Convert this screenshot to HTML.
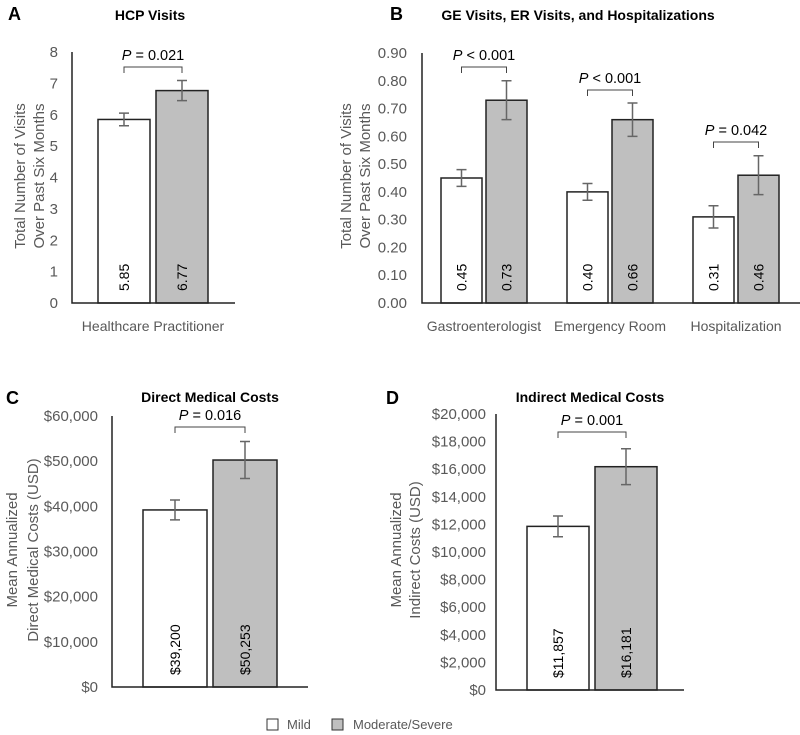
<!DOCTYPE html>
<html><head><meta charset="utf-8"><style>
body{margin:0;background:#fff;}
svg{display:block;font-family:"Liberation Sans",Arial,sans-serif;}
.tick{fill:#595959;font-size:15px;}
.ttl{font-weight:bold;font-size:14px;fill:#000;}
.lbl{font-weight:bold;font-size:18px;fill:#000;}
.ytitle{fill:#595959;font-size:15px;}
.cat{fill:#595959;font-size:14px;}
.val{fill:#000;font-size:14px;}
.pv{fill:#000;font-size:14.5px;}
</style></head><body>
<svg id="chart" width="800" height="735">
<text class="lbl" x="8" y="20">A</text>
<text class="lbl" x="390" y="20">B</text>
<text class="lbl" x="6" y="404">C</text>
<text class="lbl" x="386" y="404">D</text>
<text class="ttl" x="150" y="20" text-anchor="middle">HCP Visits</text>
<text class="ttl" x="578" y="20" text-anchor="middle">GE Visits, ER Visits, and Hospitalizations</text>
<text class="ttl" x="210" y="402" text-anchor="middle">Direct Medical Costs</text>
<text class="ttl" x="590" y="402" text-anchor="middle">Indirect Medical Costs</text>
<g>
<rect x="267" y="719" width="11" height="11" fill="#fff" stroke="#333"/>
<text x="287" y="729" class="tick" font-size="13" style="font-size:13px">Mild</text>
<rect x="332" y="719" width="11" height="11" fill="#bfbfbf" stroke="#333"/>
<text x="353" y="729" class="tick" style="font-size:13px">Moderate/Severe</text>
</g>
</svg>
<script>
// Panel A data
const aCats=["Healthcare Practitioner"];
const aMild=[5.85], aMod=[6.77];
const aMildErr=[0.2], aModErr=[0.32];
const aTicks=[0,1,2,3,4,5,6,7,8];
const aTickLabels=["0","1","2","3","4","5","6","7","8"];
const aValLabelsMild=["5.85"], aValLabelsMod=["6.77"];
const aP=["P = 0.021"];
// Panel B data
const bCats=["Gastroenterologist","Emergency Room","Hospitalization"];
const bMild=[0.45,0.40,0.31], bMod=[0.73,0.66,0.46];
const bMildErr=[0.03,0.03,0.04], bModErr=[0.07,0.06,0.07];
const bTicks=[0,0.1,0.2,0.3,0.4,0.5,0.6,0.7,0.8,0.9];
const bTickLabels=["0.00","0.10","0.20","0.30","0.40","0.50","0.60","0.70","0.80","0.90"];
const bValLabelsMild=["0.45","0.40","0.31"], bValLabelsMod=["0.73","0.66","0.46"];
const bP=["P < 0.001","P < 0.001","P = 0.042"];
// Panel C data
const cCats=[""];
const cMild=[39200], cMod=[50253];
const cMildErr=[2200], cModErr=[4100];
const cTicks=[0,10000,20000,30000,40000,50000,60000];
const cTickLabels=["$0","$10,000","$20,000","$30,000","$40,000","$50,000","$60,000"];
const cValLabelsMild=["$39,200"], cValLabelsMod=["$50,253"];
const cP=["P = 0.016"];
// Panel D data
const dCats=[""];
const dMild=[11857], dMod=[16181];
const dMildErr=[750], dModErr=[1300];
const dTicks=[0,2000,4000,6000,8000,10000,12000,14000,16000,18000,20000];
const dTickLabels=["$0","$2,000","$4,000","$6,000","$8,000","$10,000","$12,000","$14,000","$16,000","$18,000","$20,000"];
const dValLabelsMild=["$11,857"], dValLabelsMod=["$16,181"];
const dP=["P = 0.001"];

const NS="http://www.w3.org/2000/svg";
const svg=document.getElementById("chart");
function el(tag,attrs,parent,txt){const e=document.createElementNS(NS,tag);for(const k in attrs)e.setAttribute(k,attrs[k]);if(txt!==undefined)e.textContent=txt;(parent||svg).appendChild(e);return e;}

function panel(o){
  const g=el("g",{});
  
  
  const max=o.ticks[o.ticks.length-1];
  const y=v=>o.y0-(v/max)*(o.y0-o.y1);
  const n=o.cats.length, gw=(o.xEnd-o.x0)/n;
  o.ticks.forEach((t,i)=>{
    const tx=el("text",{x:o.x0-o.tickGap,y:y(t)+5,"text-anchor":"end",class:"tick"},g,o.tickLabels[i]);
    
    
  });
  const yt=el("text",{class:"ytitle","text-anchor":"middle",transform:`translate(${o.ytx},${o.yty}) rotate(-90)`},g);
  
  
  o.ytitle.forEach((l,i)=>{el("tspan",{x:0,dy:i?o.lh:0},yt,l);});
  o.cats.forEach((c,i)=>{
    const cx=o.x0+gw*i+gw/2+o.shift;
    const bw=o.bw, gap=o.gap;
    [[o.mild[i],o.mildErr[i],"#fff",cx-gap/2-bw,o.vm[i],"bar-mild"],[o.mod[i],o.modErr[i],"#bfbfbf",cx+gap/2,o.vd[i],"bar-moderate-severe"]].forEach(([v,e,f,bx,lab,nm])=>{
      const r=el("rect",{x:bx,y:y(v),width:bw,height:o.y0-y(v),fill:f,stroke:"#222","stroke-width":1.5},g);
      
      
      const mx=bx+bw/2;
      const eb=el("path",{d:`M${mx},${y(v+e)}V${y(v-e)}M${mx-5},${y(v+e)}H${mx+5}M${mx-5},${y(v-e)}H${mx+5}`,stroke:"#666","stroke-width":1.5,fill:"none"},g);
      
      
      const vt=el("text",{class:"val","text-anchor":"start",transform:`translate(${mx+5},${o.y0-12}) rotate(-90)`},g,lab);
      
      
    });
    if(c){const ct=el("text",{x:cx,y:o.y0+28,"text-anchor":"middle",class:"cat"},g,c);
      
      }
    const top=Math.max(o.mild[i]+o.mildErr[i],o.mod[i]+o.modErr[i]);
    const by=(o.bracketY&&o.bracketY[i])||y(top)-20;
    const l=cx-o.gap/2-o.bw/2, r2=cx+o.gap/2+o.bw/2;
    const br=el("path",{d:`M${l},${by+6}V${by}H${r2}V${by+6}`,stroke:"#444","stroke-width":1,fill:"none"},g);
    
    
    const p=o.p[i];
    const pt=el("text",{x:cx,y:by-7,"text-anchor":"middle",class:"pv"},g);
    
    
    el("tspan",{"font-style":"italic"},pt,p.slice(0,1));
    el("tspan",{},pt,p.slice(1));
  });
  const ax=el("path",{d:`M${o.x0},${o.y1}V${o.y0}H${o.xEnd}`,stroke:"#222","stroke-width":1.5,fill:"none"},g);
  
  
}
panel({name:"panel-a-hcp-visits",cats:aCats,mild:aMild,mod:aMod,mildErr:aMildErr,modErr:aModErr,ticks:aTicks,tickLabels:aTickLabels,vm:aValLabelsMild,vd:aValLabelsMod,p:aP,
  x0:72,xEnd:235,y0:303,y1:52,bw:52,gap:6,shift:-0.5,tickGap:14,ytx:25,yty:176,lh:19,ytitle:["Total Number of Visits","Over Past Six Months"],bracketY:[67]});
panel({name:"panel-b-ge-er-hosp",cats:bCats,mild:bMild,mod:bMod,mildErr:bMildErr,modErr:bModErr,ticks:bTicks,tickLabels:bTickLabels,vm:bValLabelsMild,vd:bValLabelsMod,p:bP,
  x0:422,xEnd:800,y0:303,y1:53,bw:41,gap:4,shift:-1,tickGap:15,ytx:351,yty:176,lh:19,ytitle:["Total Number of Visits","Over Past Six Months"],bracketY:[67,90,142]});
panel({name:"panel-c-direct-costs",cats:cCats,mild:cMild,mod:cMod,mildErr:cMildErr,modErr:cModErr,ticks:cTicks,tickLabels:cTickLabels,vm:cValLabelsMild,vd:cValLabelsMod,p:cP,
  x0:112,xEnd:308,y0:687,y1:416,bw:64,gap:6,shift:0,tickGap:14,ytx:17,yty:550,lh:21,ytitle:["Mean Annualized","Direct Medical Costs (USD)"],bracketY:[427]});
panel({name:"panel-d-indirect-costs",cats:dCats,mild:dMild,mod:dMod,mildErr:dMildErr,modErr:dModErr,ticks:dTicks,tickLabels:dTickLabels,vm:dValLabelsMild,vd:dValLabelsMod,p:dP,
  x0:496,xEnd:684,y0:690,y1:414,bw:62,gap:6,shift:2,tickGap:10,ytx:401,yty:550,lh:19,ytitle:["Mean Annualized","Indirect Costs  (USD)"],bracketY:[432]});
</script>
</body></html>
